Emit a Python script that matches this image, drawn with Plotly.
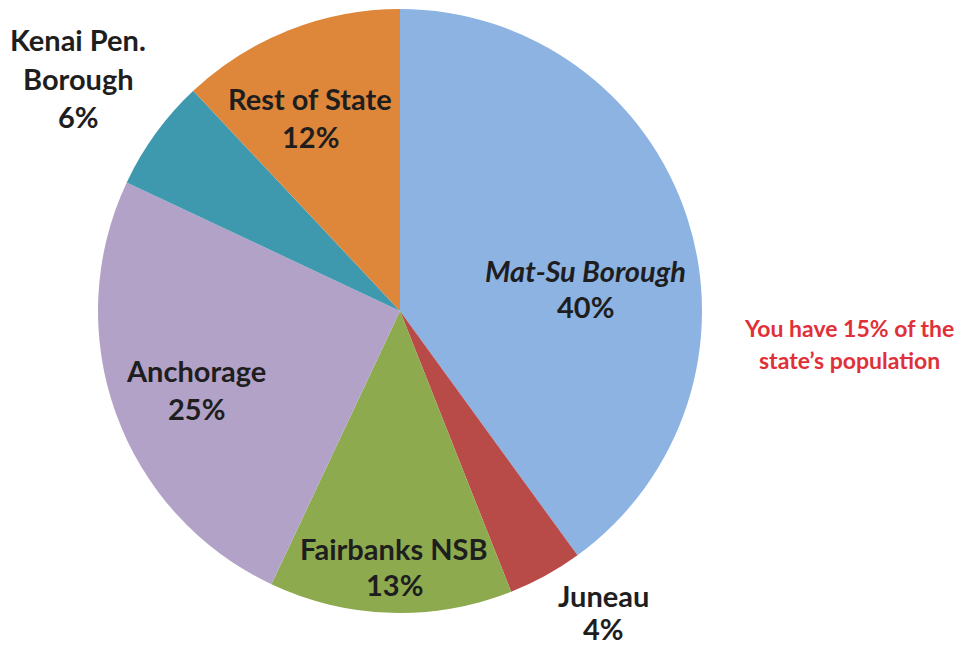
import plotly.graph_objects as go

labels = ["Mat-Su Borough", "Juneau", "Fairbanks NSB", "Anchorage", "Kenai Pen.<br>Borough", "Rest of State"]
values = [40, 4, 13, 25, 6, 12]
colors = ["#8DB3E2", "#B84A48", "#8DAA4E", "#B3A2C7", "#3E98AE", "#DE873B"]
# label block centre (pixels) and line spacing for each slice's text
label_pos = [(577, 280), (595, 604), (386, 558), (188, 381), (70, 70), (302, 109)]
line_gap = [36, 33, 36, 38, 39, 38]
italic = [True, False, False, False, False, False]
note_text = ["You have 15% of the", "state\u2019s population"]

W, H = 963, 646
fig = go.Figure(go.Pie(
    labels=labels, values=values, sort=False, direction="clockwise", rotation=0,
    marker=dict(colors=colors, line=dict(width=0)),
    textinfo="none", hoverinfo="label+percent", showlegend=False,
    domain=dict(x=[90 / W, 694 / W], y=[1 - 606 / H, 1.0]),
))

FONT = "Lato"
total = sum(values)
for lab, v, (cx, cy), ls, it in zip(labels, values, label_pos, line_gap, italic):
    lines = lab.split("<br>") + [f"{round(100 * v / total)}%"]
    n = len(lines)
    for i, ln in enumerate(lines):
        y = cy + (i - (n - 1) / 2) * ls
        txt = f"<i>{ln}</i>" if (it and i < n - 1) else ln
        fig.add_annotation(x=cx / W, y=1 - y / H, xref="paper", yref="paper",
                           text=f"<b>{txt}</b>", showarrow=False,
                           font=dict(family=FONT, size=29, color="#1E1E1E"),
                           xanchor="center", yanchor="middle")

for i, ln in enumerate(note_text):
    y = 320 + i * 32
    fig.add_annotation(x=841 / W, y=1 - y / H, xref="paper", yref="paper",
                       text=f"<b>{ln}</b>", showarrow=False,
                       font=dict(family=FONT, size=23, color="#E0303A"),
                       xanchor="center", yanchor="middle")

fig.update_layout(width=W, height=H, margin=dict(l=0, r=0, t=0, b=0),
                  paper_bgcolor="white", plot_bgcolor="white")
fig.write_html("out.html")
